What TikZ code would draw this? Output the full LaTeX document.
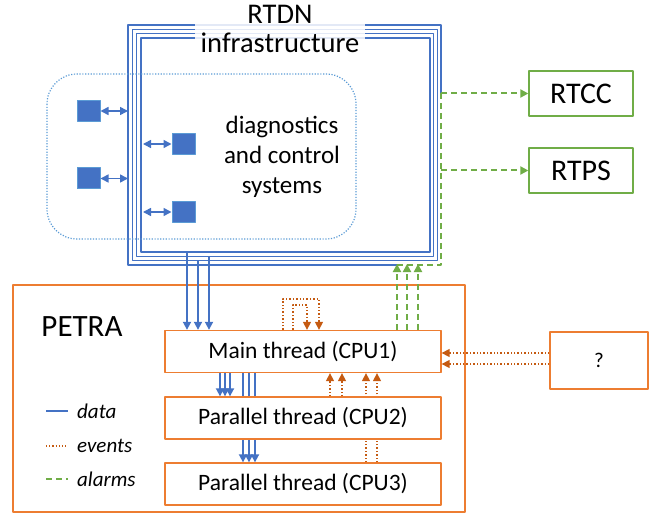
\documentclass[tikz,border=0pt]{standalone}
\usepackage{fontspec}
\setmainfont{Carlito}
\usepackage{xcolor}
\usetikzlibrary{arrows.meta}

\definecolor{datablu}{HTML}{4472C4}
\definecolor{diagblu}{HTML}{5B9BD5}
\definecolor{petraor}{HTML}{ED7D31}
\definecolor{evtor}{HTML}{C55A11}
\definecolor{alarmgr}{HTML}{70AD47}

\tikzset{
  data/.style={datablu, line width=1.7pt},
  ev/.style={evtor, line width=1.4pt, dotted},
  alarm/.style={alarmgr, line width=2pt, dash pattern=on 6pt off 4pt},
  frame/.style={datablu, line width=1.4pt},
  thread/.style={draw=petraor, line width=1.3pt, fill=white, inner sep=0pt,
    minimum width=276pt, minimum height=42pt, font=\fontsize{23.5}{26}\selectfont},
  sysbox/.style={draw=alarmgr, line width=1.3pt, inner sep=0pt,
    minimum width=104pt, minimum height=45pt, font=\fontsize{30}{32}\selectfont},
  dev/.style={fill=datablu, draw=diagblu, line width=1pt, inner sep=0pt,
    minimum width=23pt, minimum height=21pt},
  legtext/.style={anchor=west, inner sep=0pt, font=\fontsize{21}{24}\selectfont\itshape},
}

\begin{document}
\begin{tikzpicture}[x=1pt, y=-1pt, >={Triangle[length=8pt,width=8pt]},
  line join=round]
\useasboundingbox (0,0) rectangle (662,516);

% Cornici RTDN
\foreach \d in {1,2,3}
  \draw[frame] (128+4.3*\d,25+4.3*\d) rectangle (441-3.7*\d,265-4.3*\d);
\draw[frame] (397,265) -- (128,265) -- (128,25) -- (441,25) -- (441,93);
\node[fill=white, fill opacity=.85, text opacity=1, align=center, inner xsep=6pt,
  inner ysep=0pt, font=\fontsize{28.5}{28.5}\selectfont] (rtdn) at (280,29)
  {RTDN\\infrastructure};

% Sistemi di diagnostica
\draw[diagblu, line width=1.2pt, dash pattern=on 1.2pt off 1.6pt, rounded corners=30pt]
  (47,74) rectangle (356,239);
\node[align=center, font=\fontsize{25}{30}\selectfont] (diag) at (282,157)
  {diagnostics\\and control\\systems};
\node[dev] (d1) at (88.5,111) {};
\node[dev] (d2) at (88.5,178.5) {};
\node[dev] (d3) at (183.5,144) {};
\node[dev] (d4) at (183.5,212) {};
\draw[datablu, line width=1.5pt, <->] (d1.east) -- (d1.east -| 128,0);
\draw[datablu, line width=1.5pt, <->] (d2.east) -- (d2.east -| 128,0);
\draw[datablu, line width=1.5pt, <->] (d3.west -| 143,0) -- (d3.west);
\draw[datablu, line width=1.5pt, <->] (d4.west -| 143,0) -- (d4.west);

% RTCC e RTPS
\node[sysbox] (rtcc) at (581,93.5) {RTCC};
\node[sysbox] (rtps) at (581,170.5) {RTPS};
\coordinate (gtop) at (441,93.5);
\coordinate (gmid) at (441,170.5);
\draw[alarm] (gtop) -- (441,265) -- (397,265);
\draw[alarm, ->] (gtop) -- (rtcc.west);
\draw[alarm, ->] (gmid) -- (rtps.west);

% PETRA
\draw[petraor, line width=1.3pt] (13,285) rectangle (465,512);
\node[font=\fontsize{31}{34}\selectfont] (petra) at (82,327) {PETRA};

\node[thread] (main) at (303,351.5) {Main thread (CPU1)};
\node[thread] (cpu3) at (303,484) {Parallel thread (CPU3)};

% Connessioni che passano dietro CPU2
\foreach \x in {243,249,255}
  \draw[data, ->] (main.south -| \x,0) -- (cpu3.north -| \x,0);
\foreach \x in {366,377}
  \draw[ev, ->] (cpu3.north -| \x,0) -- (main.south -| \x,0);

\node[thread] (cpu2) at (303,418) {Parallel thread (CPU2)};

% Dati
\foreach \x/\y in {187/251.5,198/260.5,209/256}
  \draw[data, ->] (\x,\y) -- (main.north -| \x,0);
\foreach \x in {220,225,230}
  \draw[data, ->] (main.south -| \x,0) -- (cpu2.north -| \x,0);

% Allarmi
\foreach \x in {397,407,418}
  \draw[alarm, ->] (main.north -| \x,0) -- (\x,264);

% Eventi
\draw[ev, ->] ([xshift=-20pt]main.north) -- ++(0,-31) -| ([xshift=16pt]main.north);
\draw[ev, ->] ([xshift=-10pt]main.north) -- ++(0,-25) -| ([xshift=4pt]main.north);
\foreach \x in {330,342}
  \draw[ev, ->] (cpu2.north -| \x,0) -- (main.south -| \x,0);

\node[draw=petraor, line width=1.3pt, minimum width=98pt, minimum height=57pt,
  font=\fontsize{21}{24}\selectfont] (q) at (599,360.5) {?};
\coordinate (q1) at ([yshift=7.5pt]q.west);
\coordinate (q2) at ([yshift=-3.5pt]q.west);
\draw[ev, ->] (q1) -- (q1 -| main.east);
\draw[ev, ->] (q2) -- (q2 -| main.east);

% Legenda
\node[legtext] (ldata) at (77,411) {data};
\node[legtext] (levents) at (77,446) {events};
\node[legtext] (lalarms) at (77,479) {alarms};
\draw[datablu, line width=1.3pt] ([xshift=-31pt]ldata.west) -- ([xshift=-9pt]ldata.west);
\draw[evtor, line width=1.2pt, dotted] ([xshift=-31pt]levents.west) -- ([xshift=-9pt]levents.west);
\draw[alarmgr, line width=1.4pt, dash pattern=on 6pt off 4pt] ([xshift=-31pt]lalarms.west) -- ([xshift=-9pt]lalarms.west);

\end{tikzpicture}
\end{document}
